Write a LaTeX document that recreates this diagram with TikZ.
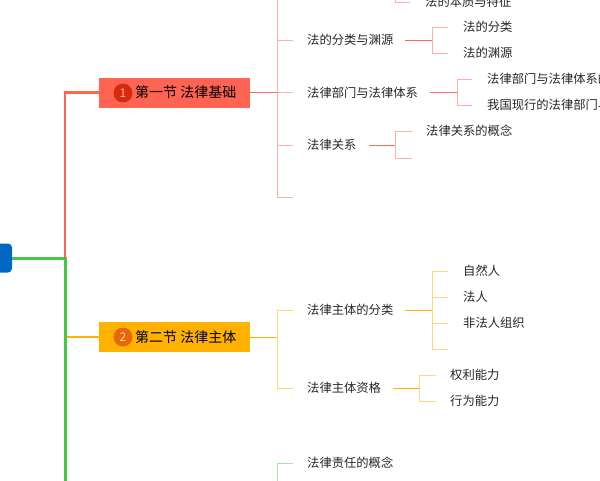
\documentclass[tikz,border=0pt]{standalone}
\usepackage{fontspec}
\setmainfont{Noto Sans CJK SC}
\begin{document}
\begin{tikzpicture}[x=1pt,y=-1pt,
  txt/.style={anchor=west,inner sep=0pt,font=\fontsize{12.3}{14}\selectfont,text=black!85},
  sec/.style={anchor=west,inner sep=0pt,font=\fontsize{14}{16}\selectfont,text=black},
  box/.style={minimum width=151pt,minimum height=30pt,inner sep=0pt},
  num/.style={circle,minimum size=19pt,inner sep=0pt,font=\fontsize{12}{14}\selectfont}]
\definecolor{rd}{HTML}{FF6352}\definecolor{rdl}{HTML}{FFB0A6}\definecolor{rdd}{HTML}{D62A0E}
\definecolor{og}{HTML}{FFB300}\definecolor{ogl}{HTML}{FFD77A}\definecolor{ogd}{HTML}{E8660C}
\definecolor{gn}{HTML}{44C944}\definecolor{gnl}{HTML}{A8E6A8}\definecolor{bl}{HTML}{0068C0}
\useasboundingbox (0,0) rectangle (600,480);
\clip (0,0) rectangle (600,480);
% root
\node[fill=bl,rounded corners=4pt,minimum width=24pt,minimum height=29pt,inner sep=0pt] (root) at (0,258) {};
\coordinate (j) at (65,258);
\draw[gn,line width=3pt] (root.east) -- (j) -- (65,485);
% sections
\node[box,fill=rd] (s1) at (174.5,92.5) {};
\node[num,fill=rdd,text=rd!50] (n1) at (123,93) {1};
\node[sec] at (135,92.5) {第一节 法律基础};
\node[box,fill=og] (s2) at (174.5,337) {};
\node[num,fill=ogd,text=og!50] (n2) at (123,337) {2};
\node[sec] at (135,337) {第二节 法律主体};
\draw[rd,line width=2.5pt] (65,258) -- (65,92.5) -- (s1.west);
\draw[og,line width=1.2pt] (66.5,337) -- (s2.west);
% section 1
\draw[rd,line width=1pt] (s1.east) -- (277,92.5);
\draw[rdl,line width=1pt] (277,-5) -- (277,197);
\foreach \y in {40,92.5,145,197}{\draw[rdl,line width=1pt] (277,\y) -- (293,\y);}
\node[txt] (a1) at (307,40) {法的分类与渊源};
\node[txt] (a2) at (307,92.5) {法律部门与法律体系};
\node[txt] (a3) at (307,145) {法律关系};
\node[txt] (a0) at (425,2) {法的本质与特征};
\draw[rdl,line width=1pt] (395,-10) -- (395,2) -- (410,2);
\draw[rd,line width=1pt] (405,40) -- (432,40);
\draw[rdl,line width=1pt] (448,27) -- (432,27) -- (432,53) -- (448,53);
\node[txt] at (463,27) {法的分类};
\node[txt] at (463,53) {法的渊源};
\draw[rd,line width=1pt] (430,92.5) -- (457,92.5);
\draw[rdl,line width=1pt] (472,79) -- (457,79) -- (457,105) -- (472,105);
\node[txt] at (487,79) {法律部门与法律体系的概念};
\node[txt] at (487,105) {我国现行的法律部门与法律体系};
\draw[rd,line width=1pt] (369,145) -- (395,145);
\draw[rdl,line width=1pt] (412,131) -- (395,131) -- (395,158) -- (412,158);
\node[txt] at (426,131) {法律关系的概念};
% section 2
\draw[og,line width=1pt] (s2.east) -- (277,337);
\draw[ogl,line width=1pt] (293,310) -- (277,310) -- (277,388) -- (293,388);
\node[txt] (b1) at (307,310) {法律主体的分类};
\node[txt] (b2) at (307,388) {法律主体资格};
\draw[og,line width=1pt] (405,310) -- (432,310);
\draw[ogl,line width=1pt] (432,271) -- (432,349);
\foreach \y in {271,297,323,349}{\draw[ogl,line width=1pt] (432,\y) -- (448,\y);}
\node[txt] at (463,271) {自然人};
\node[txt] at (463,297) {法人};
\node[txt] at (463,323) {非法人组织};
\draw[og,line width=1pt] (393,388) -- (419,388);
\draw[ogl,line width=1pt] (436,375) -- (419,375) -- (419,401) -- (436,401);
\node[txt] at (450,375) {权利能力};
\node[txt] at (450,401) {行为能力};
% section 3
\draw[gnl,line width=1pt] (293,463) -- (277,463) -- (277,485);
\node[txt] at (307,463) {法律责任的概念};
\end{tikzpicture}
\end{document}
